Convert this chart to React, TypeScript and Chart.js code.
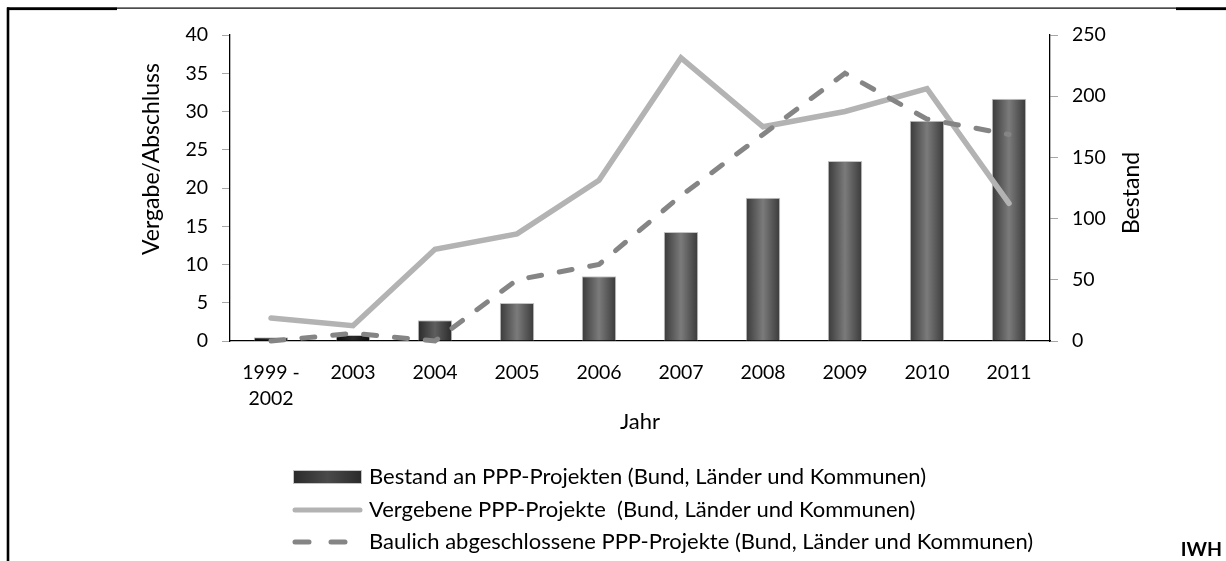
import React, { useEffect, useRef } from 'react';
import { Chart, registerables } from 'chart.js';

Chart.register(...registerables);

const categories: (string | string[])[] = [['1999 -', '2002'], '2003', '2004', '2005', '2006', '2007', '2008', '2009', '2010', '2011'];
const bestand = [3, 5, 17, 31, 53, 89, 117, 147, 180, 198];
const vergeben = [3, 2, 12, 14, 21, 37, 28, 30, 33, 18];
const abgeschlossen = [0, 1, 0, 8, 10, 19, 27, 35, 29, 27];
const leftMax = 40;
const leftStep = 5;
const rightMax = 250;
const rightStep = 50;
const legendLabels = [
  'Bestand an PPP-Projekten (Bund, Länder und Kommunen)',
  'Vergebene PPP-Projekte  (Bund, Länder und Kommunen)',
  'Baulich abgeschlossene PPP-Projekte (Bund, Länder und Kommunen)',
];
const axisTitles = { x: 'Jahr', left: 'Vergabe/Abschluss', right: 'Bestand' };
const sourceLabel = 'IWH';

const FONT = 'Lato';
const SOLID = '#b3b3b3';
const DASHED = '#858585';

function barFill(context: any) {
  const chart = context.chart;
  if (context.type !== 'data' || !chart.scales || !chart.scales.x) return '#555555';
  const x = chart.scales.x.getPixelForValue(context.dataIndex);
  if (!Number.isFinite(x)) return '#555555';
  const half = 17;
  const ctx = chart.ctx;
  const g = ctx.createLinearGradient(x - half, 0, x + half, 0);
  const v = context.raw as number;
  let edge = '#3a3a3a';
  let mid = '#7b7b7b';
  if (v < 10) { edge = '#0d0d0d'; mid = '#2a2a2a'; }
  else if (v < 25) { edge = '#2b2b2b'; mid = '#5e5e5e'; }
  g.addColorStop(0, edge);
  g.addColorStop(0.5, mid);
  g.addColorStop(1, edge);
  return g;
}

const decorPlugin = {
  id: 'decor',
  afterDraw(chart: any) {
    const ctx = chart.ctx as CanvasRenderingContext2D;
    ctx.save();
    // frame lines
    ctx.fillStyle = '#000';
    ctx.fillRect(7, 7.5, 1219, 1.2);
    ctx.fillRect(7, 7.5, 110, 2.6);
    ctx.fillRect(1176, 7.5, 50, 2.6);
    ctx.fillRect(6.7, 7.5, 2.6, 554);

    // rotated axis titles (both read bottom-to-top)
    ctx.font = `23px ${FONT}`;
    ctx.textAlign = 'center';
    ctx.textBaseline = 'middle';
    const drawRot = (t: string, x: number, y: number) => {
      ctx.save();
      ctx.translate(x, y);
      ctx.rotate(-Math.PI / 2);
      ctx.fillText(t, 0, 0);
      ctx.restore();
    };
    drawRot(axisTitles.left, 152, 159);
    drawRot(axisTitles.right, 1132, 193);

    // legend
    const sx = 293, ex = 362, tx = 369;
    const rows = [477, 510, 542];
    const g = ctx.createLinearGradient(sx, 0, ex, 0);
    g.addColorStop(0, '#2a2a2a');
    g.addColorStop(0.5, '#4a4a4a');
    g.addColorStop(1, '#2a2a2a');
    ctx.fillStyle = g;
    ctx.fillRect(sx, rows[0] - 7, ex - sx, 14);
    ctx.strokeStyle = '#c4c4c4';
    ctx.lineWidth = 1;
    ctx.strokeRect(sx + 0.5, rows[0] - 6.5, ex - sx - 1, 13);
    ctx.lineCap = 'round';
    ctx.strokeStyle = SOLID;
    ctx.lineWidth = 5;
    ctx.beginPath();
    ctx.moveTo(sx + 2, rows[1]);
    ctx.lineTo(ex - 2, rows[1]);
    ctx.stroke();
    ctx.strokeStyle = DASHED;
    ctx.beginPath();
    ctx.moveTo(sx + 2, rows[2]);
    ctx.lineTo(sx + 16, rows[2]);
    ctx.moveTo(sx + 38, rows[2]);
    ctx.lineTo(sx + 52, rows[2]);
    ctx.stroke();

    ctx.fillStyle = '#000';
    ctx.font = `22px ${FONT}`;
    ctx.textAlign = 'left';
    ctx.textBaseline = 'middle';
    legendLabels.forEach((t, i) => ctx.fillText(t, tx, rows[i]));

    ctx.font = `bold 19.5px ${FONT}`;
    ctx.textAlign = 'right';
    ctx.fillText(sourceLabel, 1222, 550);
    ctx.restore();
  },
};

export default function App() {
  const ref = useRef<HTMLCanvasElement>(null);
  useEffect(() => {
    document.body.style.margin = '0';
    if (!ref.current) return;
    const tickFont = { family: FONT, size: 19.5, lineHeight: 1.37 };
    const titleFont = { family: FONT, size: 22, lineHeight: 1.2 };
    const chart = new Chart(ref.current, {
      type: 'bar',
      data: {
        labels: categories as any,
        datasets: [
          {
            type: 'line',
            label: legendLabels[2],
            data: abgeschlossen,
            yAxisID: 'y',
            borderColor: DASHED,
            borderWidth: 5,
            borderDash: [13, 18],
            borderCapStyle: 'round',
            pointRadius: 0,
            fill: false,
            tension: 0,
            clip: 10,
            order: 0,
          } as any,
          {
            type: 'line',
            label: legendLabels[1],
            data: vergeben,
            yAxisID: 'y',
            borderColor: SOLID,
            borderWidth: 5.5,
            borderCapStyle: 'round',
            pointRadius: 0,
            fill: false,
            tension: 0,
            clip: 10,
            order: 1,
          } as any,
          {
            type: 'bar',
            label: legendLabels[0],
            data: bestand,
            yAxisID: 'y1',
            backgroundColor: barFill,
            borderColor: '#c4c4c4',
            borderWidth: 1,
            barPercentage: 0.42,
            categoryPercentage: 1,
            order: 2,
          } as any,
        ],
      },
      options: {
        animation: false,
        responsive: true,
        maintainAspectRatio: false,
        layout: { padding: { left: 139, right: 81, top: 35, bottom: 126 } },
        plugins: { legend: { display: false }, tooltip: { enabled: false } },
        scales: {
          x: {
            grid: { display: false, drawTicks: false },
            border: { display: true, color: '#000', width: 1.3 },
            ticks: { color: '#000', font: tickFont, padding: 18, maxRotation: 0, autoSkip: false },
            title: { display: true, text: axisTitles.x, color: '#000', font: titleFont, padding: 0 },
            afterFit: (s: any) => { s.height = 94; },
          },
          y: {
            position: 'left',
            min: 0,
            max: leftMax,
            ticks: { stepSize: leftStep, color: '#000', font: tickFont, padding: 14 },
            grid: { display: true, drawOnChartArea: false, drawTicks: true, tickLength: 8, color: '#a6a6a6' },
            border: { display: true, color: '#000', width: 1.3 },
            title: { display: false },
            afterFit: (s: any) => { s.width = 91; },
          },
          y1: {
            position: 'right',
            min: 0,
            max: rightMax,
            ticks: { stepSize: rightStep, color: '#000', font: tickFont, padding: 14 },
            grid: { display: true, drawOnChartArea: false, drawTicks: true, tickLength: 8, color: '#a6a6a6' },
            border: { display: true, color: '#000', width: 1.3 },
            title: { display: false },
            afterFit: (s: any) => { s.width = 95; },
          },
        },
      } as any,
      plugins: [decorPlugin],
    });
    return () => chart.destroy();
  }, []);
  return (
    <div style={{ position: 'relative', width: 1226, height: 561 }}>
      <canvas ref={ref} />
    </div>
  );
}
